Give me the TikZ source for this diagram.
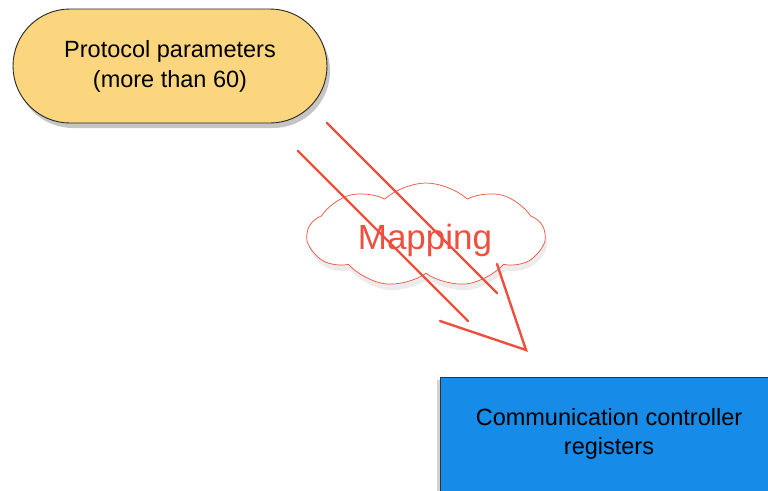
\documentclass[tikz,border=0pt]{standalone}
\usepackage{fontspec}
\setmainfont{Liberation Sans}
\usetikzlibrary{shapes.symbols,shadows}
\definecolor{pillfill}{HTML}{FCD67E}
\definecolor{boxblue}{HTML}{168CE8}
\definecolor{mapred}{HTML}{EE5040}
\tikzset{
  pill/.style={draw=black!85, line width=0.9pt, fill=pillfill, rounded corners=57pt,
    minimum width=314pt, minimum height=114pt, align=center,
    font=\fontsize{23.5}{30}\selectfont,
    drop shadow={opacity=0.45, shadow xshift=3pt, shadow yshift=-5pt}},
  regbox/.style={draw=black!80, line width=0.8pt, fill=boxblue, minimum width=360pt,
    minimum height=140pt, align=center,
    drop shadow={opacity=0.35, shadow xshift=-3pt, shadow yshift=-3pt}},
  mapcloud/.style={cloud, cloud puffs=9, cloud puff arc=85, draw=mapred, line width=0.7pt,
    fill=white, minimum width=237pt, minimum height=104pt, aspect=2.3,
    drop shadow={opacity=0.15, shadow xshift=2pt, shadow yshift=-6pt}},
  maptext/.style={text=mapred, font=\fontsize{35}{40}\selectfont},
  arrline/.style={draw=mapred, line width=2.4pt, line cap=round}
}
\begin{document}
\begin{tikzpicture}[x=1pt,y=-1pt]
\useasboundingbox (0,0) rectangle (768,490);
\clip (0,0) rectangle (768,490);
\fill[white] (0,0) rectangle (768,490);
\node[pill] (params) at (170,66) {Protocol parameters\\(more than 60)};
\node[regbox, anchor=north west] (regs) at (440,377) {};
\node[font=\fontsize{23.5}{29}\selectfont, align=center] (regtext) at (609,434) {Communication controller\\registers};
\node[mapcloud] (map) at (426,235) {};
\node[maptext] (maplabel) at (425,240) {Mapping};
\coordinate (s1a) at (298,151);
\coordinate (s1b) at (468,321);
\coordinate (s2a) at (327,123);
\coordinate (s2b) at (497,293);
\coordinate (hl) at (440,321);
\coordinate (tip) at (526,350);
\coordinate (hr) at (497,264);
\draw[arrline] (s1a) -- (s1b);
\draw[arrline] (s2a) -- (s2b);
\draw[arrline] (hl) -- (tip) -- (hr);
\end{tikzpicture}
\end{document}
